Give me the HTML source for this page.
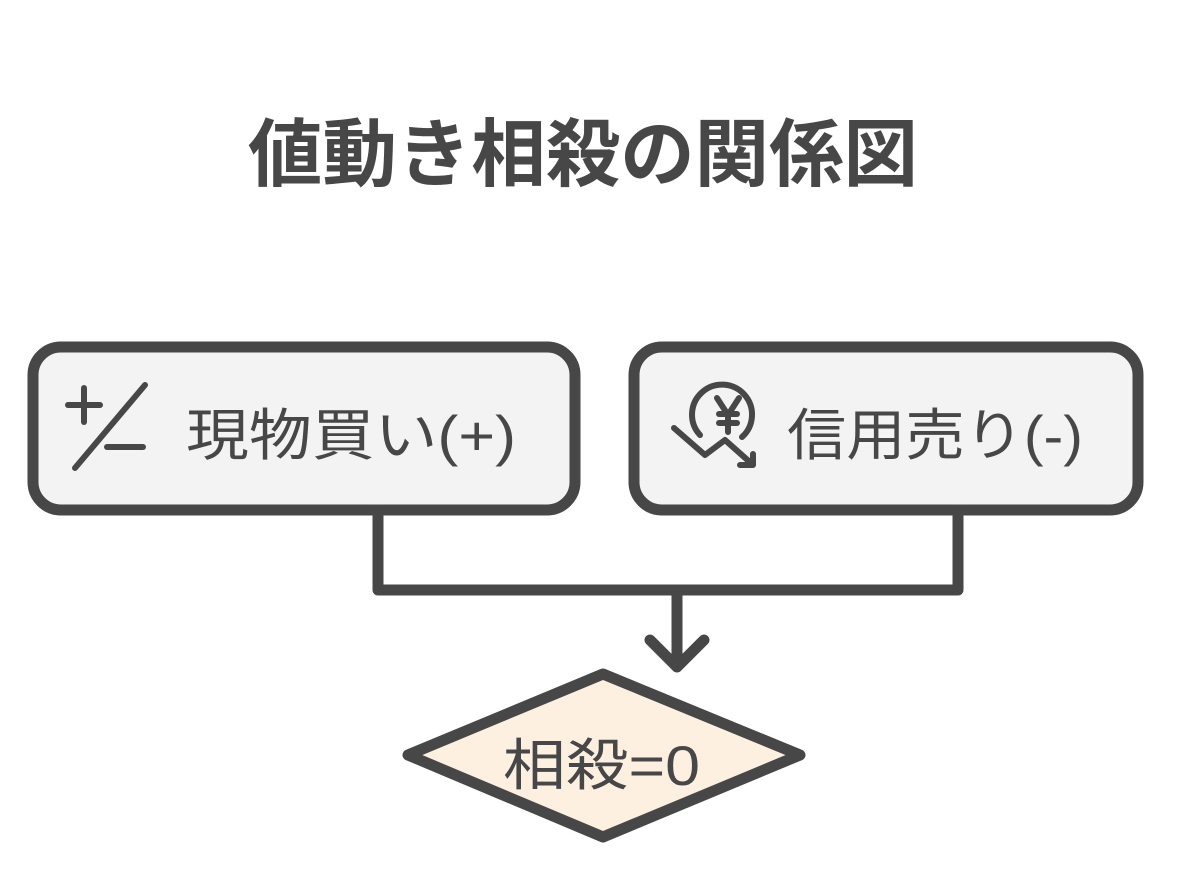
<!DOCTYPE html>
<html><head><meta charset="utf-8"><style>
body{margin:0;background:#fff;}
svg text{font-family:"Liberation Sans","Noto Sans CJK JP",sans-serif;fill:#474747;}
</style></head><body>
<svg width="1188" height="875" viewBox="0 0 1188 875" xmlns="http://www.w3.org/2000/svg">
<text x="248" y="180" font-size="74" font-weight="bold" textLength="670" lengthAdjust="spacingAndGlyphs">値動き相殺の関係図</text>
<g stroke="#474747" stroke-width="11" stroke-linecap="round" stroke-linejoin="round" fill="none">
<rect x="33" y="347" width="542" height="163" rx="28" fill="#f3f3f3"/>
<rect x="634" y="347" width="504" height="163" rx="28" fill="#f3f3f3"/>
<polyline points="378,512 378,590 958,590 958,512"/>
<line x1="677" y1="590" x2="677" y2="666"/>
<polyline points="650,640 677,667 704,640"/>
<polygon points="408,755 603,674 800,755 603,837" fill="#fdf0e1"/>
<g stroke-width="6">
<line x1="68" y1="405" x2="100" y2="405"/><line x1="84" y1="388" x2="84" y2="422"/>
<line x1="75" y1="468" x2="145" y2="385"/>
<line x1="107" y1="447" x2="143" y2="447"/>
</g>
<g stroke-width="6">
<path d="M700,435 A30,30 0 1 1 742,437"/>
<polyline points="674,428 705,455 725,440 752,464"/>
<polyline points="740,465 753,465 753,454"/>
<polyline points="717,398 728,415 739,398"/><line x1="728" y1="415" x2="728" y2="432"/>
<line x1="719" y1="414" x2="737" y2="414"/><line x1="719" y1="423" x2="737" y2="423"/>
</g>
</g>
<text x="186" y="455" font-size="56" textLength="330" lengthAdjust="spacingAndGlyphs">現物買い(+)</text>
<text x="787" y="455" font-size="56" textLength="296" lengthAdjust="spacingAndGlyphs">信用売り(-)</text>
<text x="503" y="785" font-size="56" textLength="197" lengthAdjust="spacingAndGlyphs">相殺=0</text>
</svg>
</body></html>
